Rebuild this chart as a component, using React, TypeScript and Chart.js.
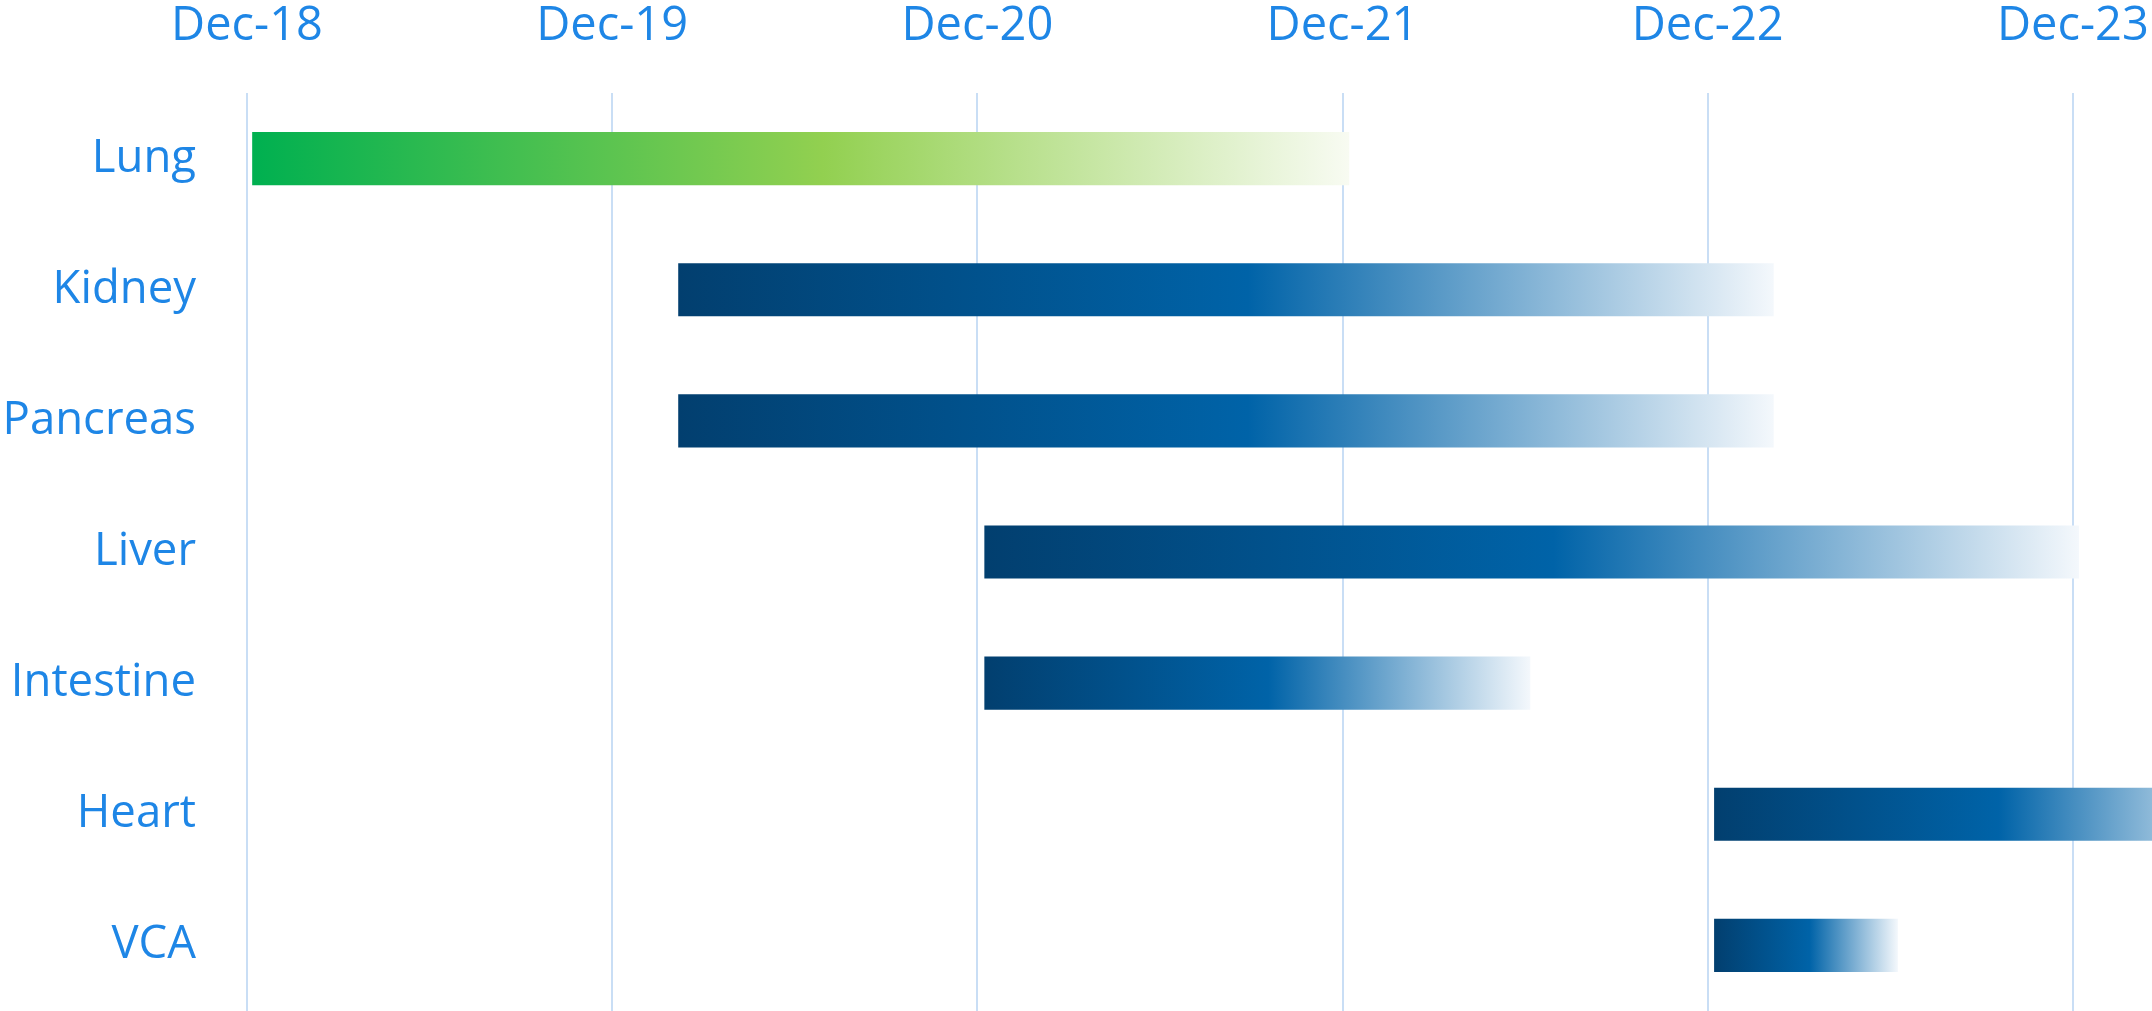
import React, { useEffect, useRef } from "react";
import { Chart, registerables } from "chart.js";

Chart.register(...registerables);

// Months counted from Dec-18
const categories = ["Lung", "Kidney", "Pancreas", "Liver", "Intestine", "Heart", "VCA"];
const startMonths = [0.17, 14.17, 14.17, 24.23, 24.23, 48.21, 48.21];
const endMonths = [36.22, 50.17, 50.17, 60.2, 42.17, 66.2, 54.25];
const tickValues = [0, 12, 24, 36, 48, 60];
const tickLabels = ["Dec-18", "Dec-19", "Dec-20", "Dec-21", "Dec-22", "Dec-23"];
const axisMin = 0;
const axisMax = 62.6;

const greenStops = ["#00b050", "#92d050", "#f8fbf2"];
const blueStops = ["#023f6f", "#0063a8", "#f4f8fc"];
const MID_STOP = 0.52;

const TEXT_COLOR = "#1e86e6";
const FONT = "'Open Sans', 'Noto Sans', sans-serif";

const gradientPlugin = {
  id: "barGradients",
  beforeDatasetsDraw(chart: any) {
    const meta = chart.getDatasetMeta(0);
    const c = chart.ctx;
    meta.data.forEach((el: any, i: number) => {
      const x0 = el.base;
      const x1 = el.x;
      if (!isFinite(x0) || !isFinite(x1) || x0 === x1) return;
      const stops = i === 0 ? greenStops : blueStops;
      const g = c.createLinearGradient(Math.min(x0, x1), 0, Math.max(x0, x1), 0);
      g.addColorStop(0, stops[0]);
      g.addColorStop(MID_STOP, stops[1]);
      g.addColorStop(1, stops[2]);
      el.options = Object.assign(Object.create(Object.getPrototypeOf(el.options)), el.options, {
        backgroundColor: g,
      });
    });
  },
};

export default function App() {
  const canvasRef = useRef<HTMLCanvasElement | null>(null);

  useEffect(() => {
    const canvas = canvasRef.current;
    if (!canvas) return;

    const data = categories.map((_, i) => [startMonths[i], endMonths[i]]);

    const chart = new Chart(canvas, {
      type: "bar",
      data: {
        labels: categories,
        datasets: [
          {
            data: data as any,
            categoryPercentage: 1,
            barPercentage: 0.405,
            borderWidth: 0,
            borderSkipped: false,
            backgroundColor: (ctx: any) => (ctx.dataIndex === 0 ? greenStops[0] : blueStops[0]),
          },
        ],
      },
      plugins: [gradientPlugin],
      options: {
        indexAxis: "y",
        responsive: false,
        animation: false,
        layout: { padding: 0 },
        plugins: {
          legend: { display: false },
          tooltip: { enabled: false },
        },
        scales: {
          x: {
            type: "linear",
            position: "top",
            min: axisMin,
            max: axisMax,
            afterFit: (scale: any) => {
              scale.height = 93;
              scale.paddingLeft = 0;
              scale.paddingRight = 0;
            },
            afterBuildTicks: (scale: any) => {
              scale.ticks = tickValues.map((v) => ({ value: v }));
            },
            ticks: {
              includeBounds: false,
              stepSize: 12,
              color: TEXT_COLOR,
              font: { family: FONT, size: 47 },
              padding: 38,
              maxRotation: 0,
              autoSkip: false,
              callback: (value: any) => {
                const idx = tickValues.indexOf(Number(value));
                return idx >= 0 ? tickLabels[idx] : "";
              },
            },
            grid: {
              color: "#c9def5",
              lineWidth: 2,
              drawTicks: false,
            },
            border: { display: false },
          },
          y: {
            type: "category",
            afterFit: (scale: any) => {
              scale.width = 247;
              scale.paddingTop = 0;
              scale.paddingBottom = 0;
            },
            ticks: {
              color: TEXT_COLOR,
              font: { family: FONT, size: 45.5 },
              padding: 51,
            },
            grid: { display: false, drawTicks: false },
            border: { display: false },
          },
        },
      },
    });

    return () => chart.destroy();
  }, []);

  return (
    <div style={{ position: "fixed", left: 0, top: 0, width: 2152, height: 1011, background: "#ffffff" }}>
      <canvas ref={canvasRef} width={2152} height={1011} style={{ display: "block" }} />
    </div>
  );
}
